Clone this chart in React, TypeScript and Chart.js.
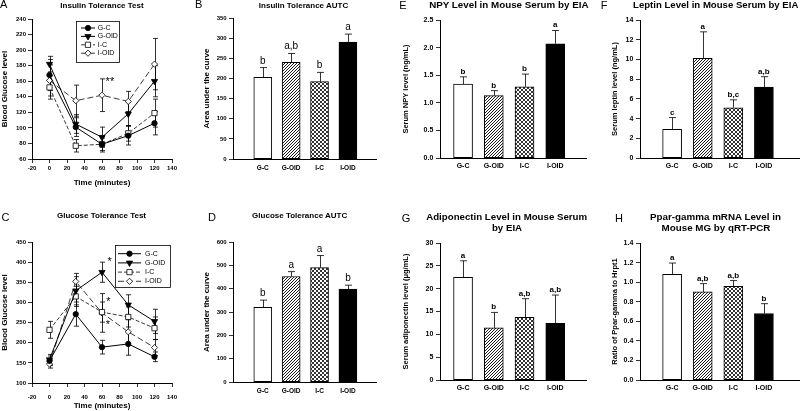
import React, { useEffect, useRef } from 'react';
import { Chart, registerables } from 'chart.js';

Chart.register(...registerables);

const FONT = "'Liberation Sans', Arial, Helvetica, sans-serif";
Chart.defaults.font.family = FONT;
Chart.defaults.color = '#000';

// ---------------- DATA ----------------
const groups = ['G-C', 'G-OID', 'I-C', 'I-OID'];
const minutes = [0, 30, 60, 90, 120];

// A: Insulin Tolerance Test (blood glucose)
const ittGC = [168, 101, 79, 90, 106];
const ittGCErr = [20, 12, 10, 12, 15];
const ittGOID = [182, 105, 88, 118, 160];
const ittGOIDErr = [10, 12, 13, 15, 20];
const ittIC = [152, 77, 79, 93, 119];
const ittICErr = [15, 8, 8, 10, 18];
const ittIOID = [161, 135, 142, 134, 182];
const ittIOIDErr = [20, 20, 21, 13, 33];
const ittStars = [{ x: 69, y: 159, text: '**' }];

// C: Glucose Tolerance Test (blood glucose)
const gttGC = [155, 271, 189, 197, 165];
const gttGCErr = [12, 30, 17, 28, 12];
const gttGOID = [158, 329, 375, 294, 253];
const gttGOIDErr = [13, 35, 25, 25, 30];
const gttIC = [232, 315, 276, 264, 236];
const gttICErr = [21, 25, 25, 25, 28];
const gttIOID = [147, 352, 274, 227, 188];
const gttIOIDErr = [10, 20, 48, 30, 20];
const gttStars = [
  { x: 68.6, y: 400, text: '*' },
  { x: 67.4, y: 301, text: '*' },
  { x: 66.6, y: 245, text: '*' },
];

// B: Insulin Tolerance AUTC
const ittAuc = [203, 240, 192, 290];
const ittAucErr = [24, 22, 23, 20];
const ittAucLetters = ['b', 'a,b', 'b', 'a'];

// D: Glucose Tolerance AUTC
const gttAuc = [320, 452, 490, 398];
const gttAucErr = [31, 21, 52, 17];
const gttAucLetters = ['b', 'a', 'a', 'b'];

// E: NPY (ng/mL)
const npy = [1.34, 1.13, 1.29, 2.07];
const npyErr = [0.13, 0.09, 0.23, 0.24];
const npyLetters = ['b', 'b', 'b', 'a'];

// F: Leptin (ng/mL)
const leptin = [2.9, 10.1, 5.1, 7.2];
const leptinErr = [1.2, 2.7, 0.8, 1.05];
const leptinLetters = ['c', 'a', 'b,c', 'a,b'];

// G: Adiponectin (ug/mL)
const adipo = [22.5, 11.4, 13.7, 12.4];
const adipoErr = [3.6, 3.4, 4.1, 6.2];
const adipoLetters = ['a', 'b', 'a,b', 'a,b'];

// H: Ppar-gamma ratio
const ppar = [1.08, 0.9, 0.958, 0.68];
const pparErr = [0.115, 0.085, 0.058, 0.1];
const pparLetters = ['a', 'a,b', 'a,b', 'b'];

// ---------------- STYLES / LAYOUT ----------------
type Geo = { cx: number; cy: number; cw: number; ch: number; L: number; T: number; R: number; B: number; xh: number };

const geoA: Geo = { cx: 0, cy: 0, cw: 195, ch: 200, L: 32, T: 19, R: 172, B: 159, xh: 28.8 };
const geoB: Geo = { cx: 195, cy: 0, cw: 195, ch: 200, L: 233, T: 18, R: 376, B: 159, xh: 20 };
const geoE: Geo = { cx: 400, cy: 0, cw: 200, ch: 200, L: 440, T: 20, R: 586, B: 158, xh: 20 };
const geoF: Geo = { cx: 600, cy: 0, cw: 200, ch: 200, L: 640, T: 20, R: 800, B: 158, xh: 20 };
const geoC: Geo = { cx: 0, cy: 205, cw: 195, ch: 206, L: 32, T: 242, R: 172, B: 383, xh: 28 };
const geoD: Geo = { cx: 195, cy: 205, cw: 195, ch: 206, L: 233, T: 242, R: 376, B: 382, xh: 20 };
const geoG: Geo = { cx: 400, cy: 205, cw: 200, ch: 206, L: 440, T: 243, R: 586, B: 380, xh: 20 };
const geoH: Geo = { cx: 600, cy: 205, cw: 200, ch: 206, L: 640, T: 243, R: 800, B: 380, xh: 20 };

const lineStyles = [
  { pointStyle: 'circle', radius: 2.7, rotation: 0, fill: '#000', line: '#000', dash: [] as number[] },
  { pointStyle: 'triangle', radius: 3.6, rotation: 180, fill: '#000', line: '#000', dash: [] as number[] },
  { pointStyle: 'rect', radius: 3.7, rotation: 0, fill: '#fff', line: '#3a3a3a', dash: [4, 2] },
  { pointStyle: 'rectRot', radius: 3.1, rotation: 0, fill: '#fff', line: '#3a3a3a', dash: [6, 3] },
];

function layoutFor(g: Geo) {
  return {
    padding: { left: 0, top: g.T - g.cy, right: g.cx + g.cw - g.R, bottom: g.cy + g.ch - g.B - g.xh },
  };
}

function makeHatch(): CanvasPattern {
  const n = 3;
  const c = document.createElement('canvas');
  c.width = n; c.height = n;
  const g = c.getContext('2d')!;
  g.fillStyle = '#fff'; g.fillRect(0, 0, n, n);
  g.strokeStyle = '#000'; g.lineWidth = 0.9;
  g.beginPath();
  g.moveTo(0, n); g.lineTo(n, 0);
  g.moveTo(-1, 1); g.lineTo(1, -1);
  g.moveTo(n - 1, n + 1); g.lineTo(n + 1, n - 1);
  g.stroke();
  return g.createPattern(c, 'repeat')!;
}

function makeCross(): CanvasPattern {
  const n = 4;
  const c = document.createElement('canvas');
  c.width = n; c.height = n;
  const g = c.getContext('2d')!;
  g.fillStyle = '#fff'; g.fillRect(0, 0, n, n);
  g.strokeStyle = '#000'; g.lineWidth = 0.8;
  g.beginPath();
  g.moveTo(0, 0); g.lineTo(n, n);
  g.moveTo(0, n); g.lineTo(n, 0);
  g.stroke();
  return g.createPattern(c, 'repeat')!;
}

function drawMarker(ctx: CanvasRenderingContext2D, st: any, x: number, y: number) {
  const r = st.radius;
  ctx.beginPath();
  if (st.pointStyle === 'circle') {
    ctx.arc(x, y, r, 0, Math.PI * 2);
  } else if (st.pointStyle === 'triangle') {
    for (let k = 0; k < 3; k++) {
      const a = (st.rotation * Math.PI) / 180 + (k * 2 * Math.PI) / 3;
      const px = x + Math.sin(a) * r;
      const py = y - Math.cos(a) * r;
      if (k === 0) ctx.moveTo(px, py); else ctx.lineTo(px, py);
    }
    ctx.closePath();
  } else if (st.pointStyle === 'rect') {
    const s = r * Math.SQRT1_2;
    ctx.rect(x - s, y - s, 2 * s, 2 * s);
  } else {
    ctx.moveTo(x - r, y); ctx.lineTo(x, y - r); ctx.lineTo(x + r, y); ctx.lineTo(x, y + r);
    ctx.closePath();
  }
  ctx.fillStyle = st.fill; ctx.fill();
  ctx.lineWidth = 0.8; ctx.strokeStyle = '#000'; ctx.stroke();
}

function errorBarPlugin(mode: 'line' | 'bar', cap: number) {
  const draw = (chart: any) => {
    const { ctx } = chart;
    const ys = chart.scales.y;
    ctx.save();
    ctx.strokeStyle = '#000';
    ctx.lineWidth = 0.8;
    ctx.setLineDash([]);
    chart.data.datasets.forEach((ds: any, i: number) => {
      const errs: number[] = ds.errorBars;
      if (!errs) return;
      const meta = chart.getDatasetMeta(i);
      meta.data.forEach((el: any, j: number) => {
        const v = ds.data[j].y;
        const x = Math.round(el.x) + 0.5;
        const top = ys.getPixelForValue(v + errs[j]);
        const bot = mode === 'bar' ? ys.getPixelForValue(v) : ys.getPixelForValue(v - errs[j]);
        ctx.beginPath();
        ctx.moveTo(x, top); ctx.lineTo(x, bot);
        ctx.moveTo(x - cap, top); ctx.lineTo(x + cap, top);
        if (mode === 'line') { ctx.moveTo(x - cap, bot); ctx.lineTo(x + cap, bot); }
        ctx.stroke();
      });
    });
    ctx.restore();
  };
  return {
    id: 'errorBars',
    beforeDatasetsDraw(chart: any) { if (mode === 'line') draw(chart); },
    afterDatasetsDraw(chart: any) { if (mode === 'bar') draw(chart); },
  };
}

function starPlugin(stars: { x: number; y: number; text: string }[]) {
  return {
    id: 'stars',
    afterDatasetsDraw(chart: any) {
      const { ctx } = chart;
      const { x, y } = chart.scales;
      ctx.save();
      ctx.font = `11px ${FONT}`;
      ctx.fillStyle = '#000';
      ctx.textAlign = 'center';
      ctx.textBaseline = 'middle';
      stars.forEach((s) => ctx.fillText(s.text, x.getPixelForValue(s.x), y.getPixelForValue(s.y)));
      ctx.restore();
    },
  };
}

function letterPlugin(values: number[], errs: number[], letters: string[], font: string, gap: number) {
  return {
    id: 'letters',
    afterDatasetsDraw(chart: any) {
      const { ctx } = chart;
      const ys = chart.scales.y;
      const meta = chart.getDatasetMeta(0);
      ctx.save();
      ctx.font = font;
      ctx.fillStyle = '#000';
      ctx.textAlign = 'center';
      ctx.textBaseline = 'alphabetic';
      meta.data.forEach((el: any, j: number) => {
        ctx.fillText(letters[j], el.x, ys.getPixelForValue(values[j] + errs[j]) - gap);
      });
      ctx.restore();
    },
  };
}

type LegendSpec = { dx: number; dy: number; w: number; h: number; row0: number; rowGap: number; l0: number; l1: number; mx: number; tx: number };

function boxLegendPlugin(spec: LegendSpec) {
  return {
    id: 'boxLegend',
    afterDatasetsDraw(chart: any) {
      const { ctx, chartArea } = chart;
      const bx = Math.round(chartArea.left + spec.dx);
      const by = Math.round(chartArea.top + spec.dy);
      ctx.save();
      ctx.fillStyle = '#fff';
      ctx.fillRect(bx, by, spec.w, spec.h);
      ctx.strokeStyle = '#000';
      ctx.lineWidth = 0.8;
      ctx.strokeRect(bx + 0.5, by + 0.5, spec.w, spec.h);
      chart.data.datasets.forEach((ds: any, i: number) => {
        const st = lineStyles[i];
        const ry = by + spec.row0 + i * spec.rowGap;
        ctx.beginPath();
        ctx.setLineDash(st.dash);
        ctx.strokeStyle = st.line;
        ctx.lineWidth = 1;
        ctx.moveTo(bx + spec.l0, ry);
        ctx.lineTo(bx + spec.l1, ry);
        ctx.stroke();
        ctx.setLineDash([]);
        drawMarker(ctx, st, bx + spec.mx, ry);
        ctx.fillStyle = '#000';
        ctx.font = `7px ${FONT}`;
        ctx.textAlign = 'left';
        ctx.textBaseline = 'middle';
        ctx.fillText(ds.label, bx + spec.tx, ry);
      });
      ctx.restore();
    },
  };
}

function yScale(g: Geo, min: number, max: number, step: number, tickFont: number, tickPad: number,
  title: string, titleFont: number, titlePad: number, decimals: number) {
  return {
    type: 'linear',
    min, max,
    afterFit: (s: any) => { s.width = g.L - g.cx; },
    ticks: {
      stepSize: step,
      font: { size: tickFont, weight: 'bold' },
      padding: tickPad,
      color: '#000',
      callback: (v: any) => Number(v).toFixed(decimals),
    },
    grid: { display: true, drawOnChartArea: false, drawTicks: true, tickLength: 4, color: '#000', lineWidth: 0.8 },
    border: { display: true, color: '#000', width: 1 },
    title: { display: true, text: title, font: { size: titleFont, weight: 'bold' }, padding: { top: titlePad, bottom: 0 }, color: '#000' },
  };
}

function lineConfig(vals: number[][], errs: number[][], g: Geo, yMin: number, yMax: number, yStep: number,
  xPad: number, stars: { x: number; y: number; text: string }[], legend: LegendSpec): any {
  return {
    type: 'line',
    data: {
      datasets: vals.map((v, i) => ({
        label: groups[i],
        data: minutes.map((m, j) => ({ x: m, y: v[j] })),
        errorBars: errs[i],
        borderColor: lineStyles[i].line,
        borderWidth: 1,
        borderDash: lineStyles[i].dash,
        pointStyle: lineStyles[i].pointStyle,
        pointRadius: lineStyles[i].radius,
        pointRotation: lineStyles[i].rotation,
        pointBackgroundColor: lineStyles[i].fill,
        pointBorderColor: '#000',
        pointBorderWidth: 0.8,
        tension: 0,
        fill: false,
      })),
    },
    options: {
      responsive: false,
      animation: false,
      devicePixelRatio: 1,
      layout: layoutFor(g),
      events: [],
      plugins: { legend: { display: false }, title: { display: false }, tooltip: { enabled: false } },
      scales: {
        x: {
          type: 'linear', min: -20, max: 140,
          afterFit: (s: any) => { s.height = g.xh; },
          ticks: { stepSize: 20, font: { size: 6, weight: 'bold' }, padding: xPad, maxRotation: 0, autoSkip: false, color: '#000' },
          grid: { display: true, drawOnChartArea: false, drawTicks: true, tickLength: 4, color: '#000', lineWidth: 0.8 },
          border: { display: true, color: '#000', width: 1 },
          title: { display: true, text: 'Time (minutes)', font: { size: 8, weight: 'bold' }, padding: 0, color: '#000' },
        },
        y: yScale(g, yMin, yMax, yStep, 6, 2, 'Blood Glucose level', 8, 0, 0),
      },
    },
    plugins: [errorBarPlugin('line', 2.5), boxLegendPlugin(legend), starPlugin(stars)],
  };
}

type BarOpts = {
  values: number[]; errs: number[]; letters: string[]; g: Geo;
  yMin: number; yMax: number; yStep: number; decimals: number;
  xMin: number; xMax: number; yTitle: string; yTitleFont: number; yTitlePad: number;
  tickFont: number; tickPad: number; catFont: number; catPad: number; barW: number;
  letterFont: string; letterGap: number;
};

function barConfig(o: BarOpts): any {
  const fills = ['#fff', makeHatch(), makeCross(), '#000'];
  return {
    type: 'bar',
    data: {
      datasets: [{
        label: 'value',
        data: groups.map((_, i) => ({ x: i + 1, y: o.values[i] })),
        errorBars: o.errs,
        backgroundColor: fills,
        borderColor: '#000',
        borderWidth: 1,
        borderSkipped: false,
        barThickness: o.barW,
      }],
    },
    options: {
      responsive: false,
      animation: false,
      devicePixelRatio: 1,
      layout: layoutFor(o.g),
      events: [],
      plugins: { legend: { display: false }, title: { display: false }, tooltip: { enabled: false } },
      scales: {
        x: {
          type: 'linear', min: o.xMin, max: o.xMax, offset: false,
          afterBuildTicks: (s: any) => { s.ticks = groups.map((_, i) => ({ value: i + 1 })); },
          afterFit: (s: any) => { s.height = o.g.xh; },
          ticks: {
            callback: (v: any) => groups[Math.round(Number(v)) - 1] ?? '',
            font: { size: o.catFont, weight: 'bold' }, padding: o.catPad, autoSkip: false, maxRotation: 0, color: '#000',
          },
          grid: { display: false, drawTicks: false },
          border: { display: true, color: '#000', width: 1 },
        },
        y: yScale(o.g, o.yMin, o.yMax, o.yStep, o.tickFont, o.tickPad, o.yTitle, o.yTitleFont, o.yTitlePad, o.decimals),
      },
    },
    plugins: [errorBarPlugin('bar', 3.5), letterPlugin(o.values, o.errs, o.letters, o.letterFont, o.letterGap)],
  };
}

// ---------------- BUILDERS ----------------
const buildA = () => lineConfig([ittGC, ittGOID, ittIC, ittIOID], [ittGCErr, ittGOIDErr, ittICErr, ittIOIDErr],
  geoA, 60, 240, 20, 1.7, ittStars,
  { dx: 44, dy: 2, w: 43, h: 41, row0: 7, rowGap: 8.4, l0: 5, l1: 19, mx: 12, tx: 21.7 });

const buildC = () => lineConfig([gttGC, gttGOID, gttIC, gttIOID], [gttGCErr, gttGOIDErr, gttICErr, gttIOIDErr],
  geoC, 100, 450, 50, 7.1, gttStars,
  { dx: 83, dy: 3, w: 55, h: 42, row0: 8.7, rowGap: 9.2, l0: 3, l1: 26, mx: 14.5, tx: 30 });

const bigLetter = `10px ${FONT}`;
const boldLetter = `bold 8px ${FONT}`;

const buildB = () => barConfig({
  values: ittAuc, errs: ittAucErr, letters: ittAucLetters, g: geoB,
  yMin: 0, yMax: 350, yStep: 50, decimals: 0, xMin: -0.05, xMax: 4.99,
  yTitle: 'Area under the curve', yTitleFont: 8, yTitlePad: 6.7,
  tickFont: 6, tickPad: 2.3, catFont: 6.5, catPad: 5.8, barW: 18, letterFont: bigLetter, letterGap: 4,
});
const buildD = () => barConfig({
  values: gttAuc, errs: gttAucErr, letters: gttAucLetters, g: geoD,
  yMin: 0, yMax: 600, yStep: 100, decimals: 0, xMin: -0.05, xMax: 4.99,
  yTitle: 'Area under the curve', yTitleFont: 8, yTitlePad: 6.7,
  tickFont: 6, tickPad: 2.3, catFont: 6.5, catPad: 5.6, barW: 18, letterFont: bigLetter, letterGap: 4,
});
const buildE = () => barConfig({
  values: npy, errs: npyErr, letters: npyLetters, g: geoE,
  yMin: 0, yMax: 2.5, yStep: 0.5, decimals: 1, xMin: 0.25, xMax: 5.0,
  yTitle: 'Serum NPY level (ng/mL)', yTitleFont: 7.5, yTitlePad: 1,
  tickFont: 7, tickPad: 2.7, catFont: 7, catPad: 3.5, barW: 19, letterFont: boldLetter, letterGap: 3,
});
const buildF = () => barConfig({
  values: leptin, errs: leptinErr, letters: leptinLetters, g: geoF,
  yMin: 0, yMax: 14, yStep: 2, decimals: 0, xMin: -0.05, xMax: 5.18,
  yTitle: 'Serum leptin level (ng/mL)', yTitleFont: 7.5, yTitlePad: 10.5,
  tickFont: 7, tickPad: 2.7, catFont: 7, catPad: 3.6, barW: 19, letterFont: boldLetter, letterGap: 3,
});
const buildG = () => barConfig({
  values: adipo, errs: adipoErr, letters: adipoLetters, g: geoG,
  yMin: 0, yMax: 30, yStep: 5, decimals: 0, xMin: 0.25, xMax: 5.0,
  yTitle: 'Serum adiponectin level (μg/mL)', yTitleFont: 7.5, yTitlePad: 1.5,
  tickFont: 7, tickPad: 2.7, catFont: 7, catPad: 4.1, barW: 19, letterFont: boldLetter, letterGap: 3,
});
const buildH = () => barConfig({
  values: ppar, errs: pparErr, letters: pparLetters, g: geoH,
  yMin: 0, yMax: 1.4, yStep: 0.2, decimals: 1, xMin: -0.05, xMax: 5.18,
  yTitle: 'Ratio of Ppar-gamma to Hrpt1', yTitleFont: 7.5, yTitlePad: 10,
  tickFont: 7, tickPad: 2.7, catFont: 7, catPad: 3.6, barW: 19, letterFont: boldLetter, letterGap: 3,
});

// ---------------- TEXT (panel titles & letters) ----------------
const texts = [
  { t: 'A', cx: 3.7, cy: 4.5, s: 11, b: false },
  { t: 'B', cx: 198.7, cy: 4.7, s: 11, b: false },
  { t: 'E', cx: 403, cy: 5, s: 11, b: false },
  { t: 'F', cx: 604, cy: 5, s: 11, b: false },
  { t: 'C', cx: 5.5, cy: 217.5, s: 11, b: false },
  { t: 'D', cx: 212, cy: 217.5, s: 11, b: false },
  { t: 'G', cx: 406, cy: 218.5, s: 11, b: false },
  { t: 'H', cx: 619, cy: 218.5, s: 11, b: false },
  { t: 'Insulin Tolerance Test', cx: 102, cy: 6.2, s: 8, b: true },
  { t: 'Insulin Tolerance AUTC', cx: 303.5, cy: 6.2, s: 8, b: true },
  { t: 'NPY Level in Mouse Serum by EIA', cx: 508.8, cy: 4.8, s: 9.8, b: true },
  { t: 'Leptin Level in Mouse Serum by EIA', cx: 715.7, cy: 5, s: 9.6, b: true },
  { t: 'Glucose Tolerance Test', cx: 101.5, cy: 216, s: 8, b: true },
  { t: 'Glucose Tolerance AUTC', cx: 299.7, cy: 216, s: 8, b: true },
  { t: 'Adiponectin Level in Mouse Serum', cx: 506.7, cy: 217, s: 9.7, b: true },
  { t: 'by EIA', cx: 507, cy: 227.7, s: 9.7, b: true },
  { t: 'Ppar-gamma mRNA Level in', cx: 715.5, cy: 217, s: 9.8, b: true },
  { t: 'Mouse MG by qRT-PCR', cx: 716, cy: 228, s: 9.8, b: true },
];

function ChartCanvas({ g, build }: { g: Geo; build: () => any }) {
  const ref = useRef<HTMLCanvasElement | null>(null);
  useEffect(() => {
    if (!ref.current) return;
    const chart = new Chart(ref.current, build());
    return () => chart.destroy();
  }, []);
  return (
    <canvas
      ref={ref}
      width={g.cw}
      height={g.ch}
      style={{ position: 'absolute', left: g.cx, top: g.cy, width: g.cw, height: g.ch }}
    />
  );
}

export default function App() {
  return (
    <div
      style={{
        position: 'absolute', left: 0, top: 0, width: 800, height: 411,
        background: '#fff', overflow: 'hidden', fontFamily: FONT, color: '#000',
      }}
    >
      <ChartCanvas g={geoA} build={buildA} />
      <ChartCanvas g={geoB} build={buildB} />
      <ChartCanvas g={geoE} build={buildE} />
      <ChartCanvas g={geoF} build={buildF} />
      <ChartCanvas g={geoC} build={buildC} />
      <ChartCanvas g={geoD} build={buildD} />
      <ChartCanvas g={geoG} build={buildG} />
      <ChartCanvas g={geoH} build={buildH} />
      {texts.map((x, i) => (
        <div
          key={i}
          style={{
            position: 'absolute', left: x.cx - 150, width: 300, top: x.cy - x.s / 2,
            fontSize: x.s, lineHeight: `${x.s}px`, fontWeight: x.b ? 'bold' : 'normal',
            textAlign: 'center', whiteSpace: 'nowrap', pointerEvents: 'none',
          }}
        >
          {x.t}
        </div>
      ))}
    </div>
  );
}
